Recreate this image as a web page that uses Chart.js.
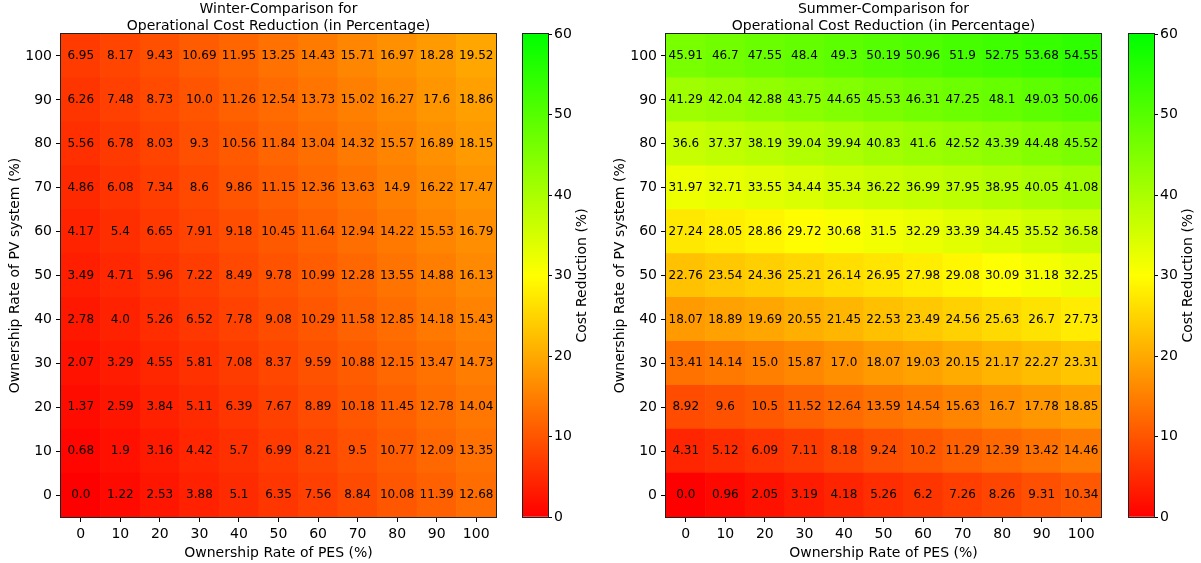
<!DOCTYPE html>
<html>
<head>
<meta charset="utf-8">
<script src="https://cdn.jsdelivr.net/npm/chart.js@4/dist/chart.umd.min.js"></script>
<style>
  html, body { margin: 0; padding: 0; background: #fff; width: 1201px; height: 563px; overflow: hidden; }
  canvas { position: absolute; top: 0; }
</style>
</head>
<body>
<canvas id="winter" width="510" height="563" style="left:0px"></canvas>
<canvas id="winterBar" width="85" height="563" style="left:515px"></canvas>
<canvas id="summer" width="510" height="563" style="left:605px"></canvas>
<canvas id="summerBar" width="80" height="563" style="left:1121px"></canvas>
<script>
// Ownership rates (%) along each axis
const pesRates = [0, 10, 20, 30, 40, 50, 60, 70, 80, 90, 100];
const pvRates  = [0, 10, 20, 30, 40, 50, 60, 70, 80, 90, 100];

// Cost reduction (%) — one row per PV ownership rate (0 → 100), columns follow pesRates
const winterCost = [
  [0.0, 1.22, 2.53, 3.88, 5.1, 6.35, 7.56, 8.84, 10.08, 11.39, 12.68],
  [0.68, 1.9, 3.16, 4.42, 5.7, 6.99, 8.21, 9.5, 10.77, 12.09, 13.35],
  [1.37, 2.59, 3.84, 5.11, 6.39, 7.67, 8.89, 10.18, 11.45, 12.78, 14.04],
  [2.07, 3.29, 4.55, 5.81, 7.08, 8.37, 9.59, 10.88, 12.15, 13.47, 14.73],
  [2.78, 4.0, 5.26, 6.52, 7.78, 9.08, 10.29, 11.58, 12.85, 14.18, 15.43],
  [3.49, 4.71, 5.96, 7.22, 8.49, 9.78, 10.99, 12.28, 13.55, 14.88, 16.13],
  [4.17, 5.4, 6.65, 7.91, 9.18, 10.45, 11.64, 12.94, 14.22, 15.53, 16.79],
  [4.86, 6.08, 7.34, 8.6, 9.86, 11.15, 12.36, 13.63, 14.9, 16.22, 17.47],
  [5.56, 6.78, 8.03, 9.3, 10.56, 11.84, 13.04, 14.32, 15.57, 16.89, 18.15],
  [6.26, 7.48, 8.73, 10.0, 11.26, 12.54, 13.73, 15.02, 16.27, 17.6, 18.86],
  [6.95, 8.17, 9.43, 10.69, 11.95, 13.25, 14.43, 15.71, 16.97, 18.28, 19.52]
];
const summerCost = [
  [0.0, 0.96, 2.05, 3.19, 4.18, 5.26, 6.2, 7.26, 8.26, 9.31, 10.34],
  [4.31, 5.12, 6.09, 7.11, 8.18, 9.24, 10.2, 11.29, 12.39, 13.42, 14.46],
  [8.92, 9.6, 10.5, 11.52, 12.64, 13.59, 14.54, 15.63, 16.7, 17.78, 18.85],
  [13.41, 14.14, 15.0, 15.87, 17.0, 18.07, 19.03, 20.15, 21.17, 22.27, 23.31],
  [18.07, 18.89, 19.69, 20.55, 21.45, 22.53, 23.49, 24.56, 25.63, 26.7, 27.73],
  [22.76, 23.54, 24.36, 25.21, 26.14, 26.95, 27.98, 29.08, 30.09, 31.18, 32.25],
  [27.24, 28.05, 28.86, 29.72, 30.68, 31.5, 32.29, 33.39, 34.45, 35.52, 36.58],
  [31.97, 32.71, 33.55, 34.44, 35.34, 36.22, 36.99, 37.95, 38.95, 40.05, 41.08],
  [36.6, 37.37, 38.19, 39.04, 39.94, 40.83, 41.6, 42.52, 43.39, 44.48, 45.52],
  [41.29, 42.04, 42.88, 43.75, 44.65, 45.53, 46.31, 47.25, 48.1, 49.03, 50.06],
  [45.91, 46.7, 47.55, 48.4, 49.3, 50.19, 50.96, 51.9, 52.75, 53.68, 54.55]
];

// Colour scale range (%)
const scaleMin = 0;
const scaleMax = 60;
const scaleTicks = [0, 10, 20, 30, 40, 50, 60];

const FONT = '"DejaVu Sans", "Liberation Sans", sans-serif';
Chart.defaults.font.family = FONT;
Chart.defaults.color = '#000';

// red → yellow → green
function costColor(v) {
  const t = Math.max(0, Math.min(1, (v - scaleMin) / (scaleMax - scaleMin)));
  let r, g;
  if (t <= 0.5) { r = 255; g = Math.round(510 * t); }
  else { r = Math.round(255 * (2 - 2 * t)); g = 255; }
  return `rgb(${r},${g},0)`;
}

function fmt(v) {
  return Number.isInteger(v) ? v.toFixed(1) : String(v);
}

// black frame around the plotting area
const frame = {
  id: 'frame',
  afterDraw(chart) {
    const { ctx, chartArea: a } = chart;
    ctx.save();
    ctx.strokeStyle = '#222';
    ctx.lineWidth = 1;
    ctx.strokeRect(Math.round(a.left) - 0.5, Math.round(a.top) - 0.5,
                   Math.round(a.right - a.left) + 1, Math.round(a.bottom - a.top) + 1);
    ctx.restore();
  }
};

function heatmap(id, titleLines, rows) {
  const half = (pvRates[1] - pvRates[0]) / 2;
  const datasets = pvRates.map((pv, r) => ({
    data: pesRates.map(() => [pv - half, pv + half]),
    backgroundColor: rows[r].map(costColor),
    borderWidth: 0,
    barPercentage: 1,
    categoryPercentage: 1,
    grouped: false
  }));

  const cellLabels = {
    id: 'cellLabels',
    afterDatasetsDraw(chart) {
      const { ctx, scales: { x, y } } = chart;
      ctx.save();
      ctx.font = '12px ' + FONT;
      ctx.fillStyle = '#000';
      ctx.textAlign = 'center';
      ctx.textBaseline = 'middle';
      rows.forEach((row, r) => row.forEach((v, c) => {
        ctx.fillText(fmt(v), x.getPixelForValue(c), y.getPixelForValue(pvRates[r]));
      }));
      ctx.restore();
    }
  };

  return new Chart(document.getElementById(id), {
    type: 'bar',
    data: { labels: pesRates.map(String), datasets },
    options: {
      responsive: false,
      animation: false,
      layout: { padding: { left: 0, right: 14, top: 0, bottom: 0 } },
      plugins: {
        legend: { display: false },
        tooltip: { enabled: false },
        title: {
          display: true,
          text: titleLines,
          fullSize: false,
          color: '#000',
          font: { size: 14, weight: 'normal', lineHeight: 1.15 },
          padding: { top: 1.8, bottom: 0 }
        }
      },
      scales: {
        x: {
          type: 'category',
          offset: true,
          grid: { drawOnChartArea: false, offset: false, tickLength: 5, tickColor: '#000' },
          border: { display: false },
          ticks: { font: { size: 14 }, color: '#000', padding: 4, maxRotation: 0, autoSkip: false },
          title: {
            display: true, text: 'Ownership Rate of PES (%)', color: '#000',
            font: { size: 14 }, padding: { top: 0, bottom: 1.5 }
          },
          afterFit(s) { s.height = 46; }
        },
        y: {
          type: 'linear',
          min: pvRates[0] - half,
          max: pvRates[pvRates.length - 1] + half,
          afterBuildTicks(s) { s.ticks = pvRates.map(v => ({ value: v })); },
          grid: { drawOnChartArea: false, tickLength: 5, tickColor: '#000' },
          border: { display: false },
          ticks: { font: { size: 14 }, color: '#000', padding: 4 },
          title: {
            display: true, text: 'Ownership Rate of PV system (%)', color: '#000',
            font: { size: 14 }, padding: { top: 6.6, bottom: 0 }
          },
          afterFit(s) { s.width = 61; }
        }
      }
    },
    plugins: [cellLabels, frame]
  });
}

function colorbar(id, axisWidth) {
  const cbLabel = {
    id: 'cbLabel',
    afterDraw(chart) {
      const { ctx, chartArea: a } = chart;
      ctx.save();
      ctx.font = '14px ' + FONT;
      ctx.fillStyle = '#000';
      ctx.textAlign = 'center';
      ctx.textBaseline = 'middle';
      ctx.translate(a.right + 34, (a.top + a.bottom) / 2);
      ctx.rotate(-Math.PI / 2);
      ctx.fillText('Cost Reduction (%)', 0, 0);
      ctx.restore();
    }
  };
  return new Chart(document.getElementById(id), {
    type: 'bar',
    data: {
      labels: [''],
      datasets: [{
        data: [[scaleMin, scaleMax]],
        backgroundColor(ctx) {
          const chart = ctx.chart;
          const y = chart.scales.y;
          if (!chart.chartArea || !y) return costColor(scaleMin);
          const g = chart.ctx.createLinearGradient(0, y.getPixelForValue(scaleMin), 0, y.getPixelForValue(scaleMax));
          g.addColorStop(0, costColor(scaleMin));
          g.addColorStop(0.5, costColor((scaleMin + scaleMax) / 2));
          g.addColorStop(1, costColor(scaleMax));
          return g;
        },
        borderWidth: 0,
        barPercentage: 1,
        categoryPercentage: 1
      }]
    },
    options: {
      responsive: false,
      animation: false,
      layout: { padding: { left: 8, right: 0, top: 34, bottom: 46 } },
      plugins: { legend: { display: false }, tooltip: { enabled: false } },
      scales: {
        x: { display: false },
        y: {
          position: 'right',
          min: scaleMin,
          max: scaleMax,
          afterBuildTicks(s) { s.ticks = scaleTicks.map(v => ({ value: v })); },
          grid: { drawOnChartArea: false, tickLength: 4, tickColor: '#000' },
          border: { display: false },
          ticks: { font: { size: 14 }, color: '#000', padding: 2 },
          afterFit(s) { s.width = axisWidth; }
        }
      }
    },
    plugins: [frame, cbLabel]
  });
}

heatmap('winter', ['Winter-Comparison for', 'Operational Cost Reduction (in Percentage)'], winterCost);
colorbar('winterBar', 52);
heatmap('summer', ['Summer-Comparison for', 'Operational Cost Reduction (in Percentage)'], summerCost);
colorbar('summerBar', 47);
</script>
</body>
</html>
